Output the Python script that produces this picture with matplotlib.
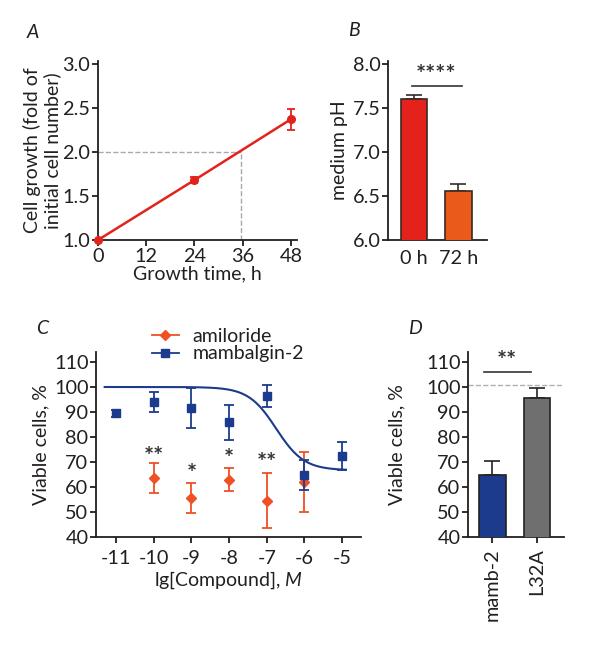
import numpy as np
import matplotlib
matplotlib.use("Agg")
import matplotlib.pyplot as plt
from matplotlib.lines import Line2D

plt.rcParams['font.family'] = ['Lato', 'DejaVu Sans']
plt.rcParams['mathtext.fontset'] = 'custom'
plt.rcParams['mathtext.it'] = 'Lato:italic'
plt.rcParams['mathtext.rm'] = 'Lato'

TXT = '#231f20'
plt.rcParams['text.color'] = TXT
plt.rcParams['axes.labelcolor'] = TXT
plt.rcParams['xtick.color'] = TXT
plt.rcParams['ytick.color'] = TXT
plt.rcParams['axes.edgecolor'] = TXT

# ---- data ----
# Panel A
growth_time = [0, 24, 48]
growth_fold = [1.0, 1.68, 2.37]
growth_err = [0.0, 0.035, 0.12]
doubling_time = 35.5
doubling_level = 2.0

# Panel B
ph_labels = ['0 h', '72 h']
ph_values = [7.60, 6.56]
ph_err = [0.04, 0.07]
ph_sig = '****'

# Panel C
conc_log = [-11, -10, -9, -8, -7, -6, -5]
mamb_values = [89.5, 94.0, 91.5, 86.0, 96.5, 65.0, 72.5]
mamb_err = [1.5, 4.0, 8.0, 7.0, 4.5, 6.0, 5.5]
amil_log = [-10, -9, -8, -7, -6]
amil_values = [63.5, 55.5, 63.0, 54.5, 62.0]
amil_err = [6.0, 6.0, 4.5, 11.0, 12.0]
star_log = [-10, -9, -8, -7]
star_labels = ['**', '*', '*', '**']
star_y = [72.0, 65.0, 71.0, 69.5]
fit_top, fit_bottom, fit_logic50, fit_hill = 100.0, 66.7, -6.75, 1.18
fit_range = (-11.3, -4.9)

# Panel D
d_labels = ['mamb-2', 'L32A']
d_values = [65.0, 95.5]
d_err = [5.5, 4.0]
d_sig = '**'
d_ref = 101

RED = '#e3231b'
ORANGE_BAR = '#ea5a1a'
AMIL = '#ef5124'
BLUE = '#1d3b8c'
GRAY = '#6f6f6f'

W, H = 590, 647
fig = plt.figure(figsize=(W / 100, H / 100), dpi=100)

FS = 14
TFS = 14.3

def ax_px(l, r, b, t):
    return fig.add_axes([l / W, (H - b) / H, (r - l) / W, (b - t) / H])

def style(ax):
    for s in ['top', 'right']:
        ax.spines[s].set_visible(False)
    for s in ['left', 'bottom']:
        ax.spines[s].set_linewidth(1.3)
    ax.tick_params(direction='out', length=4, width=1.3, labelsize=TFS, pad=1.5)

# ---- Panel A ----
axA = ax_px(98, 297, 240, 61)
style(axA)
axA.plot([0, doubling_time], [doubling_level, doubling_level], ls='--', color='#aaaaaa', lw=1)
axA.plot([doubling_time, doubling_time], [1.0, doubling_level], ls='--', color='#aaaaaa', lw=1)
axA.errorbar(growth_time, growth_fold, yerr=growth_err, color=RED, lw=1.8, marker='o',
             ms=5.5, capsize=3, elinewidth=1.3, capthick=1.3, clip_on=False, zorder=5)
axA.set_xlim(0, 49.5)
axA.set_ylim(1.0, 3.03)
axA.set_xticks([0, 12, 24, 36, 48])
axA.set_yticks([1.0, 1.5, 2.0, 2.5, 3.0])
axA.set_yticklabels(['1.0', '1.5', '2.0', '2.5', '3.0'])
axA.set_xlabel('Growth time, h', fontsize=FS, labelpad=0.5)
axA.set_ylabel('Cell growth (fold of\ninitial cell number)', fontsize=FS, labelpad=1, linespacing=1.15)
fig.text(27 / W, 1 - 32 / H, 'A', fontsize=FS, style='italic', ha='left', va='center')

# ---- Panel B ----
axB = ax_px(388, 487, 240, 61)
style(axB)
axB.bar([0, 1], ph_values, width=0.59, bottom=0, color=[RED, ORANGE_BAR],
        edgecolor='#3a2a25', linewidth=1.2, zorder=3)
axB.errorbar([0, 1], ph_values, yerr=[[0, 0], ph_err], fmt='none', ecolor='#3a2a25',
             elinewidth=1.2, capsize=6, capthick=1.2, zorder=2)
axB.set_xlim(-0.58, 1.64)
axB.set_ylim(6.0, 8.03)
axB.set_yticks([6.0, 6.5, 7.0, 7.5, 8.0])
axB.set_yticklabels(['6.0', '6.5', '7.0', '7.5', '8.0'])
axB.set_xticks([0, 1])
axB.set_xticklabels(ph_labels)
axB.tick_params(axis='x', length=0, pad=7)
axB.set_ylabel('medium pH', fontsize=FS, labelpad=3)
axB.plot([-0.05, 1.08], [7.75, 7.75], color='#333333', lw=1.2)
axB.text(0.5, 7.74, ph_sig, ha='center', va='bottom', fontsize=17, color='#333333',
         fontweight='bold')
fig.text(348 / W, 1 - 30 / H, 'B', fontsize=FS, style='italic', ha='left', va='center')

# ---- Panel C ----
axC = ax_px(96, 361, 537, 352)
style(axC)
xf = np.linspace(fit_range[0], fit_range[1], 300)
yf = fit_bottom + (fit_top - fit_bottom) / (1 + 10 ** ((xf - fit_logic50) * fit_hill))
axC.plot(xf, yf, color=BLUE, lw=1.5, zorder=2)
axC.errorbar(amil_log, amil_values, yerr=amil_err, fmt='D', color=AMIL, ms=5,
             capsize=3.5, elinewidth=1.3, capthick=1.3, zorder=3)
axC.errorbar(conc_log, mamb_values, yerr=mamb_err, fmt='s', color=BLUE, ms=6,
             capsize=3.5, elinewidth=1.3, capthick=1.3, zorder=4)
for xs, ys, lab in zip(star_log, star_y, star_labels):
    axC.text(xs, ys, lab, ha='center', va='center', fontsize=17, color='#333333',
             fontweight='bold')
axC.set_xlim(-11.53, -4.5)
axC.set_ylim(40, 114)
axC.set_xticks(conc_log)
axC.set_xticklabels([str(v) for v in conc_log])
axC.set_yticks(range(40, 111, 10))
axC.tick_params(axis='x', pad=5)
axC.set_xlabel('lg[Compound], $\\mathit{M}$', fontsize=FS, labelpad=2)
axC.set_ylabel('Viable cells, %', fontsize=FS, labelpad=3)
handles = [Line2D([], [], color=AMIL, marker='D', ms=5, lw=1.3),
           Line2D([], [], color=BLUE, marker='s', ms=6, lw=1.3)]
fig.legend(handles, ['amiloride', 'mambalgin-2'], loc='center left',
           bbox_to_anchor=(142 / W, 1 - 345 / H), frameon=False, fontsize=FS,
           handlelength=1.4, handletextpad=0.7, labelspacing=0.05, borderpad=0)
fig.text(42 / W, 1 - 328 / H, 'C', fontsize=FS, style='italic', ha='center', va='center')

# ---- Panel D ----
axD = ax_px(468, 564, 537, 352)
style(axD)
axD.axhline(d_ref, color='#b0b0b0', ls='--', lw=1, zorder=1)
axD.bar([0, 1], d_values, width=0.6, color=[BLUE, GRAY], edgecolor='#222222',
        linewidth=1.2, zorder=3)
axD.errorbar([0, 1], d_values, yerr=[[0, 0], d_err], fmt='none', ecolor='#222222',
             elinewidth=1.2, capsize=6, capthick=1.2, zorder=2)
axD.set_xlim(-0.55, 1.61)
axD.set_ylim(40, 114)
axD.set_yticks(range(40, 111, 10))
axD.set_xticks([0, 1])
axD.set_xticklabels(d_labels, rotation=90)
axD.tick_params(axis='x', pad=4)
axD.plot([-0.2, 0.86], [106, 106], color='#333333', lw=1.2)
axD.text(0.33, 105.7, d_sig, ha='center', va='bottom', fontsize=17, color='#333333',
         fontweight='bold')
fig.text(397 / W, 1 - 445 / H, 'Viable cells, %', fontsize=FS, rotation=90,
         ha='center', va='center')
fig.text(415 / W, 1 - 328 / H, 'D', fontsize=FS, style='italic', ha='center', va='center')

fig.savefig('out.png', dpi=100)
